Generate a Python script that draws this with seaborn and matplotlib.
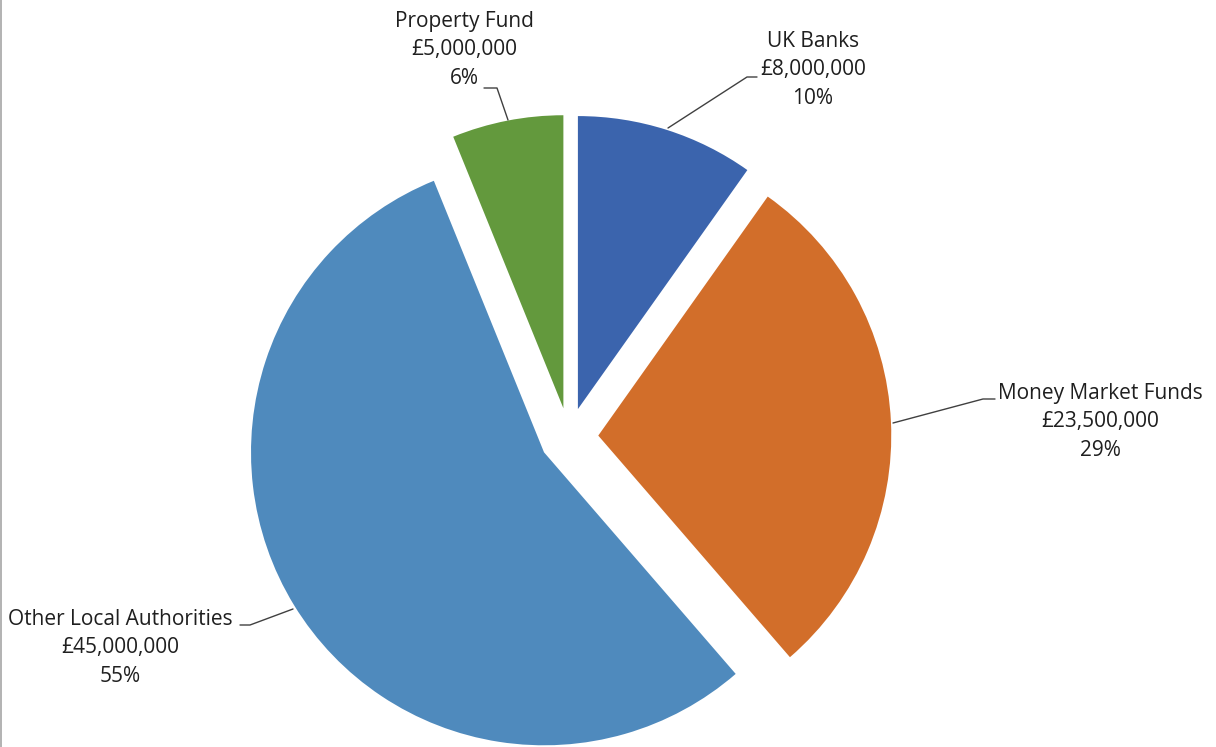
import matplotlib
matplotlib.use("Agg")
import matplotlib.pyplot as plt
import seaborn as sns
from matplotlib.lines import Line2D

# data
categories = ["UK Banks", "Money Market Funds", "Other Local Authorities", "Property Fund"]
amounts = [8000000, 23500000, 45000000, 5000000]
colors = ["#3B64AD", "#D26E2A", "#4F8ABD", "#63993D"]

sns.set_theme(style="white")
plt.rcParams["font.family"] = ["Open Sans", "DejaVu Sans"]

W, H = 1216, 747
fig = plt.figure(figsize=(W / 100, H / 100), dpi=100)
ax = fig.add_axes([0, 0, 1, 1])

# pie centre / radius in pixels
cx, cy, R = 569, 437, 293


def px(x, y):
    return (x - cx) / R, (cy - y) / R


ax.pie(amounts, colors=colors, startangle=90, counterclock=False,
       explode=[0.1] * len(amounts), radius=1,
       wedgeprops=dict(linewidth=0))

ax.set_xlim(-cx / R, (W - cx) / R)
ax.set_ylim(-(H - cy) / R, cy / R)
ax.set_aspect("auto")
ax.axis("off")

total = sum(amounts)
labels = [f"{c}\n£{a:,.0f}\n{round(a / total * 100):.0f}%" for c, a in zip(categories, amounts)]

# label centre (px) and leader line points (px): wedge, elbow, text end
label_pos = [(813, 70), (1100, 422), (120, 648), (464, 50)]
leaders = [
    [(668, 128), (747, 77), (757, 77)],
    [(893, 423), (983, 399), (995, 399)],
    [(293, 609), (250, 625), (240, 625)],
    [(508, 120), (497, 88), (484, 88)],
]

for lab, (tx, ty), pts in zip(labels, label_pos, leaders):
    x, y = px(tx, ty)
    ax.text(x, y, lab, ha="center", va="center", fontsize=15,
            color="#1F1F1F", linespacing=1.45)
    xs, ys = zip(*[px(a, b) for a, b in pts])
    ax.plot(xs, ys, color="#404040", linewidth=1)

fig.add_artist(Line2D([1 / W, 1 / W], [0, 1], color="#A6A6A6", linewidth=1.2))

fig.savefig("out.png", dpi=100, facecolor="white")
